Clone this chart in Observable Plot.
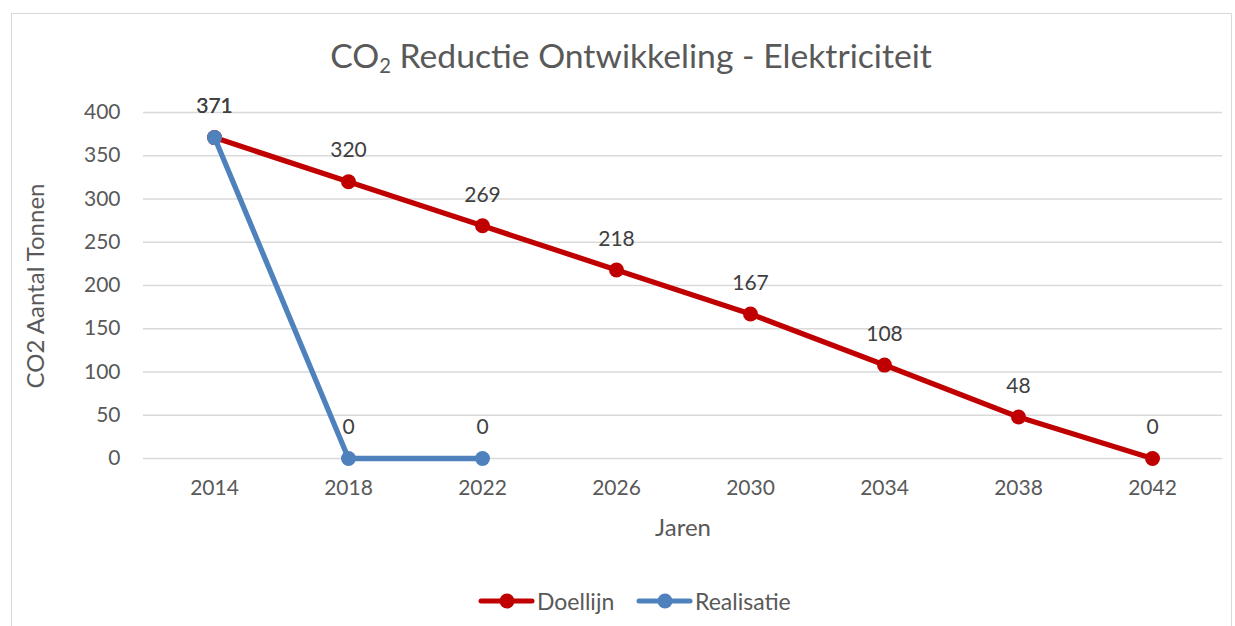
<!DOCTYPE html>
<html><head><meta charset="utf-8">
<script src="https://cdn.jsdelivr.net/npm/d3@7"></script>
<script src="https://cdn.jsdelivr.net/npm/@observablehq/plot@0.6"></script>
<style>
html,body{margin:0;padding:0;background:#fff;}
#wrap{position:relative;width:1235px;height:626px;overflow:hidden;font-family:Lato,sans-serif;}
#frame{position:absolute;left:11px;top:13px;width:1221px;height:700px;border:1.5px solid #d9d9d9;box-sizing:border-box;}
#chart{position:absolute;left:0;top:0;}
.t{position:absolute;white-space:nowrap;color:#595959;line-height:1;}
#title{left:631px;top:39px;transform:translateX(-50%);font-size:33.7px;}
#title sub{font-size:0.6em;vertical-align:-0.25em;line-height:0;}
#xlabel{left:683px;top:515px;transform:translateX(-50%);font-size:24px;}
#ylabel{left:35px;top:286px;transform:translate(-50%,-50%) rotate(-90deg);font-size:24px;}
#legend{position:absolute;top:587px;left:0;width:1235px;height:24px;}
.li{position:absolute;top:0;display:flex;align-items:center;font-size:23px;color:#595959;}
.li svg{margin-right:2px;}
</style></head>
<body><div id="wrap">
<div id="frame"></div>
<div id="chart"></div>
<div class="t" id="title">CO<sub>2</sub> Reductie Ontwikkeling - Elektriciteit</div>
<div class="t" id="xlabel">Jaren</div>
<div class="t" id="ylabel">CO2 Aantal Tonnen</div>
<div id="legend"></div>
</div>
<script>
const years = ["2014","2018","2022","2026","2030","2034","2038","2042"];
const doellijn = [371,320,269,218,167,108,48,0];
const realisatie = [371,0,0];
const yTicks = [0,50,100,150,200,250,300,350,400];
const seriesNames = ["Doellijn","Realisatie"];
const seriesColors = ["#C00000","#4F81BD"];

const dataD = doellijn.map((v,i)=>({year:years[i], value:v, series:seriesNames[0]}));
const dataR = realisatie.map((v,i)=>({year:years[i], value:v, series:seriesNames[1]}));

const chart = Plot.plot({
  width:1235, height:626,
  marginLeft:143, marginRight:13, marginTop:112, marginBottom:168,
  style:{fontFamily:"Lato, sans-serif", background:"transparent", overflow:"visible"},
  x:{type:"point", domain:years, padding:0.5, align:0.5, label:null},
  y:{domain:[0,400], label:null},
  marks:[
    Plot.gridY(yTicks,{stroke:"#d9d9d9", strokeOpacity:1, strokeWidth:1.5}),
    Plot.axisY(yTicks,{tickSize:0, tickPadding:23, fontSize:21, fill:"#595959", label:null}),
    Plot.axisX(years,{tickSize:0, tickPadding:22, fontSize:21, fill:"#595959", label:null}),
    Plot.line(dataD,{x:"year", y:"value", stroke:seriesColors[0], strokeWidth:5.3, strokeLinecap:"round"}),
    Plot.dot(dataD,{x:"year", y:"value", r:7.5, fill:seriesColors[0], stroke:null}),
    Plot.line(dataR,{x:"year", y:"value", stroke:seriesColors[1], strokeWidth:5.3, strokeLinecap:"round"}),
    Plot.dot(dataR,{x:"year", y:"value", r:7.5, fill:seriesColors[1], stroke:null}),
    Plot.text(dataD,{x:"year", y:"value", text:d=>String(d.value), dy:-31, fontSize:21, fill:"#404040"}),
    Plot.text(dataR,{x:"year", y:"value", text:d=>String(d.value), dy:-31, fontSize:21, fill:"#404040"})
  ]
});
document.getElementById("chart").appendChild(chart);

// legend
const legend = document.getElementById("legend");
const legendX = [477, 635];
seriesNames.forEach((name,i)=>{
  const item = document.createElement("div");
  item.className = "li";
  item.style.left = legendX[i] + "px";
  item.innerHTML = `<svg width="58" height="24"><line x1="4" y1="12" x2="55" y2="12" stroke="${seriesColors[i]}" stroke-width="5" stroke-linecap="round"/><circle cx="30" cy="12" r="7.5" fill="${seriesColors[i]}"/></svg><span>${name}</span>`;
  legend.appendChild(item);
});
</script>
</body></html>
